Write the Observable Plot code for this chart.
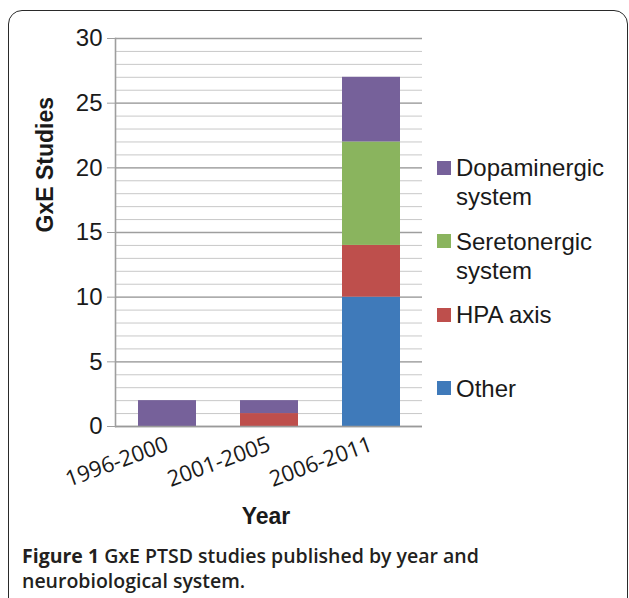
<!DOCTYPE html>
<html>
<head>
<meta charset="utf-8">
<script src="https://cdn.jsdelivr.net/npm/d3@7"></script>
<script src="https://cdn.jsdelivr.net/npm/@observablehq/plot@0.6"></script>
<style>
  html, body { margin: 0; padding: 0; background: #fff; }
  body { width: 629px; height: 598px; position: relative; overflow: hidden; }
  #box { position: absolute; left: 8px; top: 10px; width: 620px; height: 640px; box-sizing: border-box;
         border: 1.5px solid #2a2a2a; border-radius: 14px; pointer-events: none; }
  #chart { position: absolute; left: 0; top: 0; }
  #legend { position: absolute; left: 437px; top: 153px; font-family: "Liberation Sans", Arial, sans-serif;
            font-size: 24px; line-height: 29px; color: #1a1a1a; }
  .entry { height: 73.5px; display: flex; align-items: flex-start; }
  .sw { width: 14px; height: 14px; margin-top: 7.5px; margin-right: 5px; flex: none; }
  .lab { width: 165px; }
  #caption { position: absolute; left: 22px; top: 543px; font-family: "Open Sans", sans-serif; font-size: 19.5px;
             line-height: 25px; font-weight: 600; color: #231f20; width: 520px; }
  #caption b { font-weight: 700; }
</style>
</head>
<body>
<div id="chart"></div>
<div id="legend"></div>
<div id="caption"><b>Figure 1</b> GxE PTSD studies published by year and<br>neurobiological system.</div>
<div id="box"></div>
<script>
// Data
const periods = ["1996-2000", "2001-2005", "2006-2011"];
const seriesNames = ["Other", "HPA axis", "Seretonergic system", "Dopaminergic system"]; // stack order bottom→top
const other = [0, 0, 10];
const hpa = [0, 1, 4];
const seretonergic = [0, 0, 8];
const dopaminergic = [2, 1, 5];
const seriesColors = ["#3f7aba", "#be4f4c", "#8ab45e", "#76619a"];
const yTicks = [0, 5, 10, 15, 20, 25, 30];
const legendOrder = ["Dopaminergic system", "Seretonergic system", "HPA axis", "Other"];

const seriesValues = [other, hpa, seretonergic, dopaminergic];
const rows = [];
seriesNames.forEach((s, si) => {
  periods.forEach((p, pi) => {
    rows.push({period: p, series: s, value: seriesValues[si][pi]});
  });
});

const minorGrid = d3.range(0, 31);

const chart = Plot.plot({
  width: 629,
  height: 540,
  marginLeft: 115,
  marginRight: 207,
  marginTop: 38,
  marginBottom: 114,
  style: {background: "transparent", color: "#1a1a1a"},
  x: {domain: periods, paddingInner: 0.433, paddingOuter: 0.2165, label: null},
  y: {domain: [0, 30], label: null},
  color: {domain: seriesNames, range: seriesColors},
  marks: [
    Plot.ruleY(minorGrid, {stroke: "#c8c8c8", strokeWidth: 1}),
    Plot.ruleY(yTicks, {stroke: "#9e9e9e", strokeWidth: 1.3}),
    Plot.barY(rows, {x: "period", y: "value", fill: "series", order: seriesNames}),
    Plot.ruleY([0], {stroke: "#9a9a9a", strokeWidth: 1.6}),
    Plot.frame({anchor: "left", stroke: "#9e9e9e", strokeWidth: 1.6}),
    Plot.axisY({ticks: yTicks, tickSize: 8, tickPadding: 5, fontSize: 24,
                fontFamily: "Liberation Sans, Arial, sans-serif", stroke: "#9e9e9e", label: null}),
    Plot.axisX({tickRotate: -20, tickSize: 0, tickPadding: 17, fontSize: 22,
                fontFamily: "Open Sans, sans-serif", label: null}),
    Plot.text(["GxE Studies"], {frameAnchor: "left", rotate: -90, dx: -70, fontWeight: "bold", fontSize: 23,
                fontFamily: "Liberation Sans, Arial, sans-serif"}),
    Plot.text(["Year"], {frameAnchor: "bottom", dy: 97, dx: -3, fontWeight: "bold", fontSize: 23,
                fontFamily: "Liberation Sans, Arial, sans-serif"})
  ]
});
document.getElementById("chart").appendChild(chart);

// Legend
const legend = document.getElementById("legend");
legendOrder.forEach(name => {
  const e = document.createElement("div");
  e.className = "entry";
  const sw = document.createElement("div");
  sw.className = "sw";
  sw.style.background = seriesColors[seriesNames.indexOf(name)];
  const lab = document.createElement("div");
  lab.className = "lab";
  lab.textContent = name;
  e.appendChild(sw); e.appendChild(lab);
  legend.appendChild(e);
});
</script>
</body>
</html>
